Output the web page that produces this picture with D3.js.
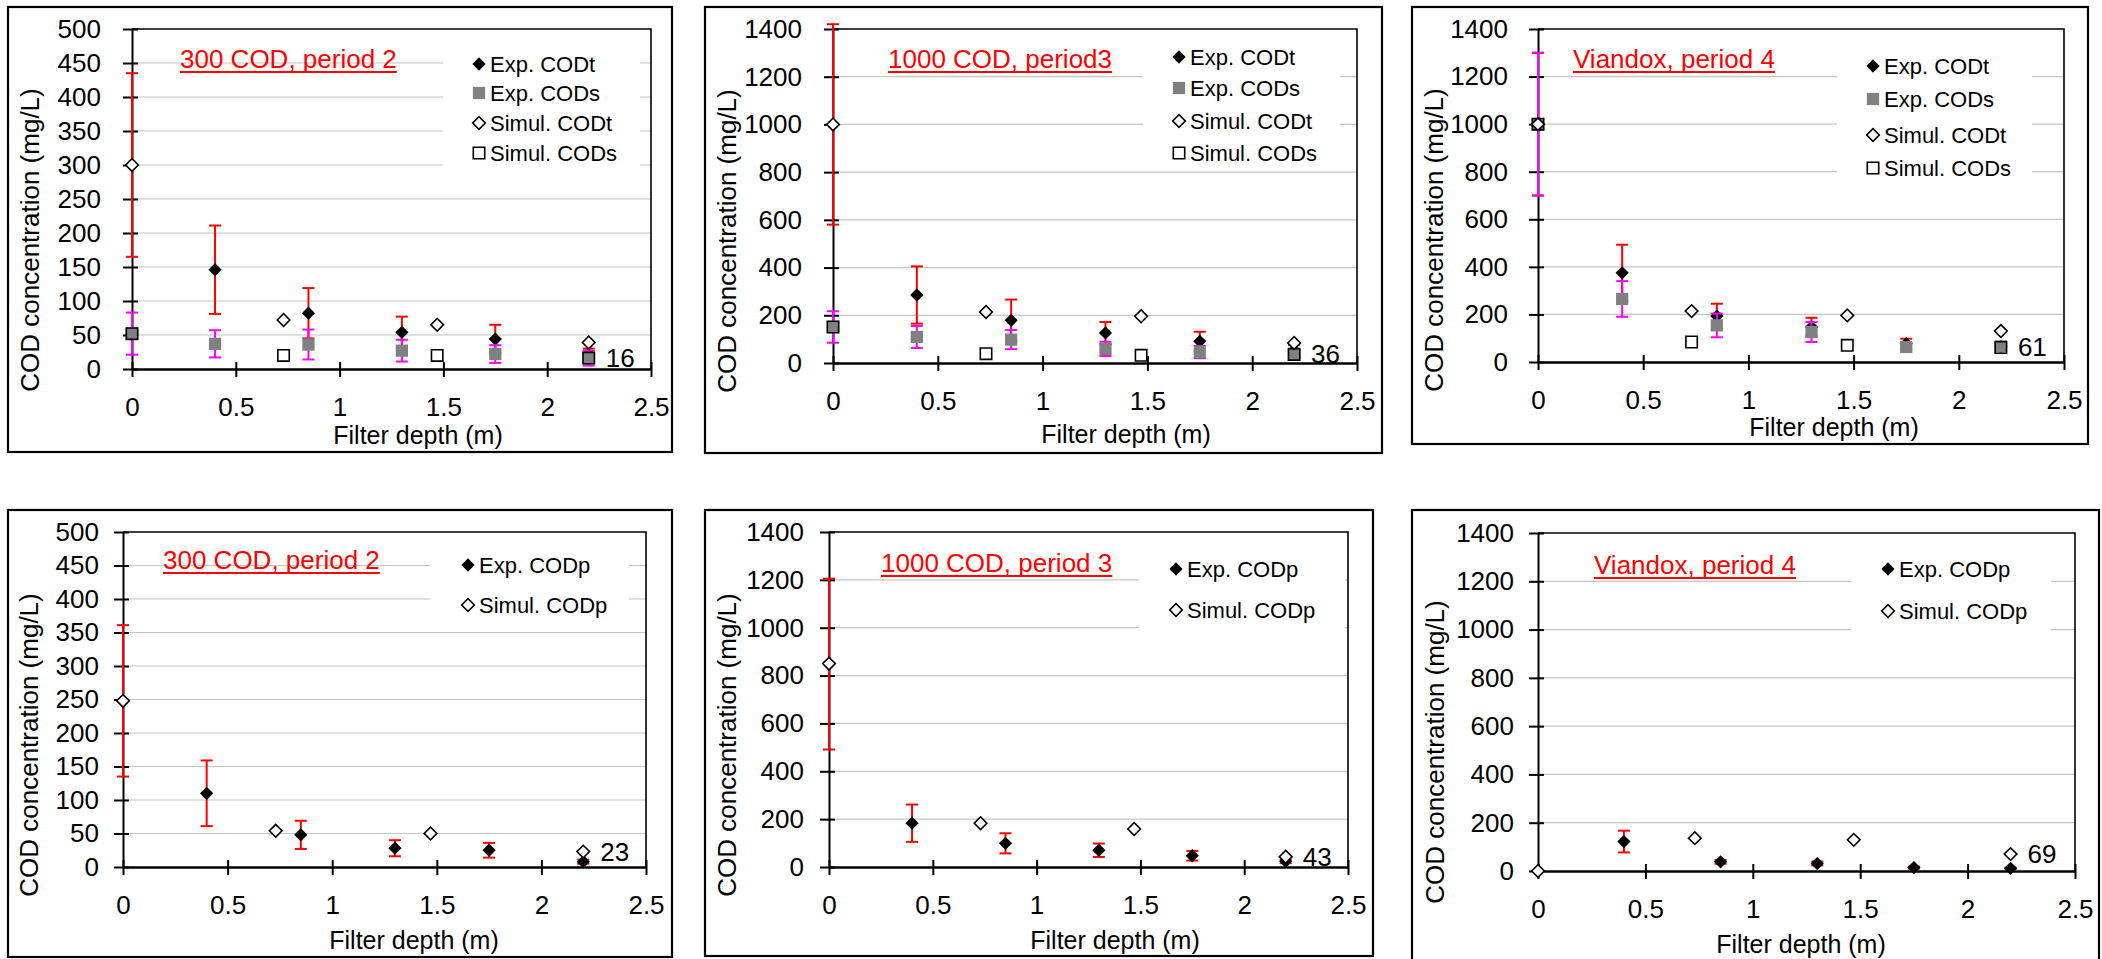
<!DOCTYPE html>
<html>
<head>
<meta charset="utf-8">
<script src="https://cdn.jsdelivr.net/npm/d3@7"></script>
<style>
  html,body{margin:0;padding:0;background:#fff;}
  svg{display:block;font-family:"Liberation Sans",Arial,sans-serif;}
</style>
</head>
<body>
<svg id="chart" width="2102" height="959"></svg>
<script>
// ---------- DATA ----------
const xExp = [0, 0.4, 0.85, 1.3, 1.75, 2.2];
const xSim = [0, 0.73, 1.47, 2.2];
const xTicks = [0, 0.5, 1, 1.5, 2, 2.5];
const xTickLabels = ["0", "0.5", "1", "1.5", "2", "2.5"];
const titles = ["300 COD, period 2", "1000 COD, period3", "Viandox, period 4",
                "300 COD, period 2", "1000 COD, period 3", "Viandox, period 4"];
const yMaxes = [500, 1400, 1400, 500, 1400, 1400];
const ySteps = [50, 200, 200, 50, 200, 200];
const endLabels = ["16", "36", "61", "23", "43", "69"];
const endLabelValues = [16, 36, 61, 23, 43, 69];
const xTitle = "Filter depth (m)";
const yTitle = "COD concentration (mg/L)";
const legendTop = ["Exp. CODt", "Exp. CODs", "Simul. CODt", "Simul. CODs"];
const legendBottom = ["Exp. CODp", "Simul. CODp"];

// top row (panels 1-3)
const expCODt    = [[300,146,82,54,44,21],[1000,285,179,126,91,55],[1000,375,193,147,77,66]];
const expCODtErr = [[135,65,37,23,21,9],[420,120,87,46,40,20],[300,118,52,39,21,12]];
const expCODs    = [[52,37,36,27,22,16],[151,109,98,59,46,39],[1000,265,154,126,63,66]];
const expCODsErr = [[31,20,22,16,13,11],[66,46,40,30,26,15],[300,75,50,42,15,15]];
const simCODt    = [[300,72,65,39],[1000,214,196,84],[1000,214,196,130]];
const simCODs    = [[52,20,20,16],[151,39,32,36],[1000,84,70,61]];
// bottom row (panels 4-6)
const expCODp    = [[248,110,48,28,25,8],[848,183,99,70,47,24],[null,122,38,31,14,11]];
const expCODpErr = [[113,49,21,12,11,3],[357,78,42,28,20,8],[0,45,8,8,4,3]];
const simCODp    = [[248,54,50,23],[850,183,159,43],[0,136,129,70]];

// ---------- LAYOUT ----------
const layout = [
 {frame:[8,7,672,452],   px:[132,651],  py:[29,369],  ypad:22, title:[180,68],  lg:{mx:479, rows:[64,93,123,153], bg:[443,38,640,178]},  yT:[30,240],  xT:[418,444]},
 {frame:[705,7,1382,453],px:[833,1357], py:[29,363],  ypad:22, title:[888,68],  lg:{mx:1179,rows:[57,88,121,153], bg:[1143,35,1340,166]}, yT:[727,241], xT:[1126,443]},
 {frame:[1412,7,2088,444],px:[1538,2064],py:[29,362], ypad:21, title:[1573,68], lg:{mx:1873,rows:[66,99,135,168], bg:[1837,40,2032,185]}, yT:[1434,240],xT:[1834,436]},
 {frame:[8,510,672,957], px:[123,646],  py:[532,867], ypad:15, title:[163,569], lg:{mx:468, rows:[565,605], bg:[430,545,629,625]}, yT:[29,745],  xT:[414,949]},
 {frame:[705,510,1373,956],px:[829,1348],py:[532,867],ypad:16, title:[881,572], lg:{mx:1176,rows:[569,610], bg:[1139,548,1345,630]}, yT:[727,745], xT:[1115,949]},
 {frame:[1412,510,2099,963],px:[1538,2075],py:[533,871],ypad:15,title:[1594,574],lg:{mx:1888,rows:[569,611], bg:[1851,548,2051,632]}, yT:[1435,752],xT:[1801,953]}
];

const RED = "#ff0000", MAG = "#ff00ff", GRAY = "#808080";
const svg = d3.select("#chart");
svg.append("rect").attr("width",2102).attr("height",959).attr("fill","#fff");

function marker(g, type, cx, cy) {
  if (type === "expD") {
    g.append("path").attr("d", d3.symbol().type(d3.symbolSquare).size(88)())
     .attr("transform", `translate(${cx},${cy}) rotate(45)`).attr("fill","#000");
  } else if (type === "simD") {
    g.append("path").attr("d", d3.symbol().type(d3.symbolSquare).size(80)())
     .attr("transform", `translate(${cx},${cy}) rotate(45)`).attr("fill","#fff")
     .attr("stroke","#000").attr("stroke-width",1.6);
  } else if (type === "expS") {
    g.append("path").attr("d", d3.symbol().type(d3.symbolSquare).size(150)())
     .attr("transform", `translate(${cx},${cy})`).attr("fill",GRAY);
  } else if (type === "simS") {
    g.append("path").attr("d", d3.symbol().type(d3.symbolSquare).size(130)())
     .attr("transform", `translate(${cx},${cy})`).attr("fill","none")
     .attr("stroke","#000").attr("stroke-width",1.6);
  }
}

function errorBars(g, x, y, xs, vals, errs, color) {
  xs.forEach((xv, i) => {
    const v = vals[i], e = errs[i];
    if (v == null || !e) return;
    const cx = x(xv), y1 = y(v + e), y2 = y(Math.max(0, v - e));
    g.append("line").attr("x1",cx).attr("x2",cx).attr("y1",y1).attr("y2",y2)
     .attr("stroke",color).attr("stroke-width",2);
    [y1, y2].forEach(yy => g.append("line").attr("x1",cx-6).attr("x2",cx+6)
     .attr("y1",yy).attr("y2",yy).attr("stroke",color).attr("stroke-width",2));
  });
}

function points(g, x, y, xs, vals, type) {
  xs.forEach((xv, i) => { if (vals[i] != null) marker(g, type, x(xv), y(vals[i])); });
}

layout.forEach((L, p) => {
  const g = svg.append("g");
  const [fx0, fy0, fx1, fy1] = L.frame;
  g.append("rect").attr("x",fx0).attr("y",fy0).attr("width",fx1-fx0).attr("height",fy1-fy0)
   .attr("fill","#fff").attr("stroke","#000").attr("stroke-width",2.2);

  const x = d3.scaleLinear().domain([0, 2.5]).range(L.px);
  const y = d3.scaleLinear().domain([0, yMaxes[p]]).range([L.py[1], L.py[0]]);
  const yTicks = d3.range(0, yMaxes[p] + 1, ySteps[p]);

  // gridlines
  g.append("g").selectAll("line").data(yTicks.filter(t => t > 0 && t < yMaxes[p])).join("line")
   .attr("x1", L.px[0]).attr("x2", L.px[1]).attr("y1", d => y(d)).attr("y2", d => y(d))
   .attr("stroke", "#c4c4c4").attr("stroke-width", 1.2);

  // plot border top/right
  g.append("path").attr("d", `M${L.px[0]},${y(yMaxes[p])}H${L.px[1]}V${y(0)}`)
   .attr("fill","none").attr("stroke","#000").attr("stroke-width",1.6);

  // axes
  const ya = g.append("g").attr("transform", `translate(${L.px[0]},0)`)
    .call(d3.axisLeft(y).tickValues(yTicks).tickFormat(d3.format("d"))
      .tickSizeInner(9).tickSizeOuter(0).tickPadding(L.ypad));
  ya.selectAll(".tick line").attr("x1", 6).attr("stroke-width", 2);
  ya.select(".domain").attr("stroke-width", 2);
  ya.attr("font-size", null).attr("font-family", null);
  ya.selectAll("text").style("font-size","26px").attr("fill","#000");

  const xa = g.append("g").attr("transform", `translate(0,${y(0)})`)
    .call(d3.axisBottom(x).tickValues(xTicks).tickFormat((d,i) => xTickLabels[i])
      .tickSizeInner(8).tickSizeOuter(0).tickPadding(21));
  xa.selectAll(".tick line").attr("y1", -7).attr("stroke-width", 2);
  xa.select(".domain").attr("stroke-width", 2.4);
  xa.attr("font-size", null).attr("font-family", null);
  xa.selectAll("text").style("font-size","26px").attr("fill","#000");

  // axis titles
  g.append("text").attr("transform", `translate(${L.yT[0]},${L.yT[1]}) rotate(-90)`)
   .attr("text-anchor","middle").attr("dominant-baseline","central")
   .style("font-size","26px").text(yTitle);
  g.append("text").attr("x", L.xT[0]).attr("y", L.xT[1]).attr("text-anchor","middle")
   .style("font-size","25px").text(xTitle);

  // panel title (red, underlined)
  const t = g.append("text").attr("x", L.title[0]).attr("y", L.title[1])
   .attr("fill", RED).style("font-size","26px").text(titles[p]);
  const tw = t.node().getComputedTextLength();
  g.append("line").attr("x1", L.title[0]).attr("x2", L.title[0] + tw)
   .attr("y1", L.title[1] + 4).attr("y2", L.title[1] + 4)
   .attr("stroke", RED).attr("stroke-width", 2);

  // data
  const d = g.append("g");
  if (p < 3) {
    errorBars(d, x, y, xExp, expCODt[p], expCODtErr[p], RED);
    points(d, x, y, xExp, expCODt[p], "expD");
    errorBars(d, x, y, xExp, expCODs[p], expCODsErr[p], MAG);
    points(d, x, y, xExp, expCODs[p], "expS");
    points(d, x, y, xSim, simCODt[p], "simD");
    points(d, x, y, xSim, simCODs[p], "simS");
  } else {
    const q = p - 3;
    errorBars(d, x, y, xExp, expCODp[q], expCODpErr[q], RED);
    points(d, x, y, xExp, expCODp[q], "expD");
    points(d, x, y, xSim, simCODp[q], "simD");
  }

  // end value label
  g.append("text").attr("x", x(xSim[xSim.length-1]) + 17).attr("y", y(endLabelValues[p]) + 9)
   .style("font-size","26px").text(endLabels[p]);

  // legend
  const lg = g.append("g");
  const [bx0, by0, bx1, by1] = L.lg.bg;
  lg.append("rect").attr("x",bx0).attr("y",by0).attr("width",bx1-bx0).attr("height",by1-by0).attr("fill","#fff");
  const labels = p < 3 ? legendTop : legendBottom;
  const types = p < 3 ? ["expD","expS","simD","simS"] : ["expD","simD"];
  labels.forEach((lab, i) => {
    marker(lg, types[i], L.lg.mx, L.lg.rows[i]);
    lg.append("text").attr("x", L.lg.mx + 11).attr("y", L.lg.rows[i])
      .attr("dominant-baseline","central").style("font-size","22px").text(lab);
  });
});
</script>
</body>
</html>
